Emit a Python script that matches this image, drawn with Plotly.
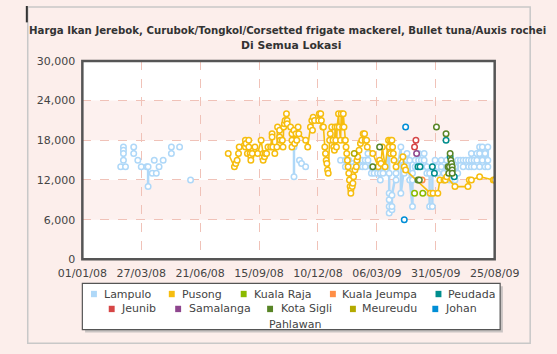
import plotly.graph_objects as go
import pandas as pd

W, H = 557, 354

TITLE_1 = "Harga Ikan Jerebok, Curubok/Tongkol/Corsetted frigate mackerel, Bullet tuna/Auxis rochei"
TITLE_2 = "Di Semua Lokasi"

X_START = "2008-01-01"
X_END = "2009-08-25"
TICK_STEP_DAYS = 86
Y_MAX = 30000
Y_STEP = 6000

SERIES_NAMES = ["Lampulo", "Pusong", "Kuala Raja", "Kuala Jeumpa", "Peudada",
                "Jeunib", "Samalanga", "Kota Sigli", "Meureudu", "Johan Pahlawan"]
SERIES_COLORS = ["#AFD8F8", "#F6BD0F", "#8BBA00", "#FF8E46", "#008E8E",
                 "#D64646", "#8E468E", "#588526", "#B3AA00", "#008ED6"]

# (date, price) ; None marks a break in the line
LAMPULO = [
    ("2008-02-26", 14000), None,
    ("2008-03-01", 17000), ("2008-03-01", 16500), ("2008-03-01", 16000), ("2008-03-01", 15000), None,
    ("2008-03-04", 14000), None,
    ("2008-03-16", 17000), ("2008-03-16", 16000), None,
    ("2008-03-22", 15000), None,
    ("2008-03-27", 14000), None,
    ("2008-04-04", 14000), None,
    ("2008-04-06", 14000), ("2008-04-06", 11000), None,
    ("2008-04-12", 13000), None,
    ("2008-04-15", 15000), None,
    ("2008-04-18", 13000), None,
    ("2008-04-22", 14000), None,
    ("2008-04-28", 15000), None,
    ("2008-05-10", 17000), ("2008-05-10", 16000), None,
    ("2008-05-22", 17000), None,
    ("2008-06-07", 12000), None,
    ("2008-11-05", 17000), ("2008-11-05", 12500), None,
    ("2008-11-13", 15000), ("2008-11-16", 14500), ("2008-11-22", 14000), None,
    ("2009-01-12", 15000), ("2009-01-19", 15000), ("2009-01-19", 14000), ("2009-01-24", 15000),
    ("2009-01-30", 14500), ("2009-01-30", 14000), ("2009-02-04", 14500), ("2009-02-08", 14000),
    ("2009-02-08", 15000), ("2009-02-13", 15000), ("2009-02-13", 14000), ("2009-02-17", 14000),
    ("2009-02-17", 15000), ("2009-02-21", 15000), ("2009-02-21", 16000), ("2009-02-26", 13000),
    ("2009-02-26", 14000), ("2009-03-02", 13000), ("2009-03-07", 13000), ("2009-03-07", 14000),
    ("2009-03-11", 12000), ("2009-03-11", 13000), ("2009-03-15", 14000), ("2009-03-15", 13000),
    ("2009-03-19", 14000), ("2009-03-24", 17000), ("2009-03-24", 13000), ("2009-03-24", 10000),
    ("2009-03-24", 9000), ("2009-03-24", 8000), ("2009-03-24", 7000), ("2009-03-28", 7500),
    ("2009-03-28", 8000), ("2009-03-28", 9700), ("2009-04-03", 13000), ("2009-04-03", 12000),
    ("2009-04-10", 17000), ("2009-04-10", 15000), ("2009-04-10", 10000), ("2009-04-15", 14000),
    ("2009-04-15", 13000), ("2009-04-19", 15000), ("2009-04-19", 16000), ("2009-04-23", 15000),
    ("2009-04-23", 12000), ("2009-04-27", 8000), ("2009-04-27", 12000), ("2009-04-27", 13000),
    ("2009-05-01", 14000), ("2009-05-01", 15000), ("2009-05-06", 15000), ("2009-05-06", 16000),
    ("2009-05-10", 15000), ("2009-05-10", 14000), ("2009-05-14", 15000), ("2009-05-14", 16000),
    ("2009-05-18", 14000), ("2009-05-18", 13000), ("2009-05-22", 13000), ("2009-05-22", 10000),
    ("2009-05-22", 8000), ("2009-05-26", 8000), ("2009-05-26", 14000), ("2009-05-30", 15000),
    ("2009-05-30", 14000), ("2009-06-03", 14000), ("2009-06-03", 13000), ("2009-06-08", 15000),
    ("2009-06-08", 14000), ("2009-06-12", 13000), ("2009-06-12", 12000), ("2009-06-16", 15000),
    ("2009-06-16", 14000), ("2009-06-20", 12500), ("2009-06-20", 12000), ("2009-06-24", 12000),
    ("2009-06-24", 14000), ("2009-06-28", 14000), ("2009-06-28", 12000), ("2009-07-02", 13000),
    ("2009-07-02", 15000), ("2009-07-06", 15000), ("2009-07-10", 15000), ("2009-07-10", 14000),
    ("2009-07-14", 15000), ("2009-07-18", 15000), ("2009-07-18", 14000), ("2009-07-22", 16000),
    ("2009-07-22", 15000), ("2009-07-22", 14000), ("2009-07-26", 15000), ("2009-07-26", 14000),
    ("2009-07-30", 16000), ("2009-07-30", 15000), ("2009-08-03", 17000), ("2009-08-03", 16000),
    ("2009-08-03", 14000), ("2009-08-07", 17000), ("2009-08-07", 15000), ("2009-08-11", 16000),
    ("2009-08-11", 14000), ("2009-08-15", 17000), ("2009-08-15", 15000), ("2009-08-15", 14000),
]

PUSONG = [
    ("2008-08-01", 16000), ("2008-08-10", 14000), ("2008-08-12", 14500), ("2008-08-14", 15000),
    ("2008-08-16", 16000), ("2008-08-17", 17000), ("2008-08-26", 18000), ("2008-08-26", 17000),
    ("2008-08-27", 17500), ("2008-08-29", 16000), ("2008-08-31", 18000), ("2008-08-31", 17000),
    ("2008-09-02", 16000), ("2008-09-03", 15500), ("2008-09-03", 15000), ("2008-09-05", 16000),
    ("2008-09-09", 17000), ("2008-09-13", 16000), ("2008-09-18", 18000), ("2008-09-21", 16000),
    ("2008-09-21", 15000), ("2008-09-23", 15500), ("2008-09-24", 16000), ("2008-09-26", 16000),
    ("2008-09-28", 17000), ("2008-10-02", 17000), ("2008-10-04", 19000), ("2008-10-04", 18500),
    ("2008-10-05", 17000), ("2008-10-08", 16000), ("2008-10-11", 17000), ("2008-10-12", 20000),
    ("2008-10-15", 19500), ("2008-10-15", 18500), ("2008-10-16", 18000), ("2008-10-19", 18000),
    ("2008-10-20", 17000), ("2008-10-21", 20000), ("2008-10-22", 20500), ("2008-10-23", 21000),
    ("2008-10-25", 22000), ("2008-10-26", 21000), ("2008-10-26", 20500), ("2008-10-31", 20000),
    ("2008-11-02", 19000), ("2008-11-02", 18000), ("2008-11-02", 17000), ("2008-11-05", 19500),
    ("2008-11-06", 17500), ("2008-11-08", 19000), ("2008-11-09", 18000), ("2008-11-11", 20000),
    ("2008-11-12", 19000), ("2008-11-22", 18000), ("2008-11-25", 17000), ("2008-11-29", 20000),
    ("2008-12-01", 21000), ("2008-12-02", 19500), ("2008-12-03", 21500), ("2008-12-05", 21000),
    ("2008-12-11", 21000), ("2008-12-12", 22000), ("2008-12-14", 22000), ("2008-12-15", 21000),
    ("2008-12-17", 20000), ("2008-12-18", 20000), ("2008-12-20", 17000), ("2008-12-21", 16000),
    ("2008-12-22", 15000), ("2008-12-23", 14500), ("2008-12-24", 13500), ("2008-12-25", 13000),
    ("2008-12-27", 18000), ("2008-12-28", 19000), ("2008-12-30", 20000), ("2009-01-01", 18000),
    ("2009-01-02", 17000), ("2009-01-03", 16500), ("2009-01-04", 20000), ("2009-01-05", 18000),
    ("2009-01-06", 17000), ("2009-01-07", 20000), ("2009-01-09", 22000), ("2009-01-10", 20000),
    ("2009-01-12", 18000), ("2009-01-13", 22000), ("2009-01-15", 20000), ("2009-01-16", 22000),
    ("2009-01-17", 20000), ("2009-01-18", 18000), ("2009-01-19", 18000), ("2009-01-20", 17000),
    ("2009-01-21", 16000), ("2009-01-22", 15000), ("2009-01-23", 14000), ("2009-01-24", 13000),
    ("2009-01-25", 12000), ("2009-01-26", 11000), ("2009-01-27", 10500), ("2009-01-27", 10000),
    ("2009-01-29", 11000), ("2009-01-30", 11500), ("2009-01-31", 12500), ("2009-02-02", 13500),
    ("2009-02-04", 14000), ("2009-02-05", 15000), ("2009-02-06", 15500), ("2009-02-08", 16500),
    ("2009-02-10", 17500), ("2009-02-12", 18000), ("2009-02-14", 19000), ("2009-02-16", 19000),
    ("2009-02-17", 18000), ("2009-02-19", 18000), ("2009-02-20", 17000), ("2009-02-28", 16000),
    ("2009-03-08", 14000), ("2009-03-10", 15000), ("2009-03-12", 14500), ("2009-03-14", 17000),
    ("2009-03-18", 14000), ("2009-03-23", 18000), ("2009-03-24", 17000), ("2009-03-26", 18000),
    ("2009-03-26", 16000), ("2009-03-28", 18000), ("2009-03-29", 17000), ("2009-03-30", 16000),
    ("2009-03-31", 15000), ("2009-04-03", 14000), ("2009-04-13", 15500), ("2009-04-15", 14000),
    ("2009-04-17", 13500), ("2009-05-23", 10000), ("2009-05-27", 10000), ("2009-06-03", 10000),
    ("2009-06-06", 12000), ("2009-06-12", 12000), ("2009-06-14", 12000), ("2009-06-16", 12500),
    ("2009-06-28", 11000), ("2009-07-17", 11000), ("2009-07-19", 12000), ("2009-07-22", 12000),
    ("2009-08-03", 12500), ("2009-08-23", 12000), ("2009-08-25", 12000),
]

KUALA_RAJA = [("2009-04-30", 10000), None, ("2009-05-12", 10000)]
KUALA_JEUMPA = [("2009-05-11", 12000)]
PEUDADA = [("2009-05-05", 14000), ("2009-05-08", 14000), None, ("2009-05-26", 14000), ("2009-05-29", 13000), None,
           ("2009-06-15", 18000), None, ("2009-06-21", 15500), ("2009-06-27", 12500)]
JEUNIB = [("2009-04-30", 17000), ("2009-05-02", 18000)]
SAMALANGA = [("2009-05-03", 16000)]
KOTA_SIGLI = [("2009-02-28", 14000), None, ("2009-03-10", 17000), None, ("2009-05-05", 12000), ("2009-05-07", 12000), None,
              ("2009-06-01", 20000), None, ("2009-06-15", 19000), None, ("2009-06-18", 14000), ("2009-06-19", 13000),
              ("2009-06-20", 14000), ("2009-06-21", 16000), ("2009-06-22", 15000), ("2009-06-23", 14500),
              ("2009-06-24", 14000), ("2009-06-24", 13500), ("2009-06-24", 13000)]
MEUREUDU = [("2009-02-01", 16000)]
JOHAN_PAHLAWAN = [("2009-04-15", 6000), None, ("2009-04-17", 20000)]

SERIES_DATA = [LAMPULO, PUSONG, KUALA_RAJA, KUALA_JEUMPA, PEUDADA,
               JEUNIB, SAMALANGA, KOTA_SIGLI, MEUREUDU, JOHAN_PAHLAWAN]

FONT = "DejaVu Sans"
TEXT_COLOR = "#444444"
PAPER_BG = "#fceeeb"
BAND_COLOR = "#fdf1ef"
GRID_COLOR = "#f0c2b8"
BORDER_COLOR = "#555555"


def px(x):
    return x / W


def py(y):
    return 1 - y / H


# plot area in pixels
PL, PR, PT, PB = 63, 516, 57, 263

fig = go.Figure()

for name, color, data in zip(SERIES_NAMES, SERIES_COLORS, SERIES_DATA):
    xs = [d[0] if d else None for d in data]
    ys = [d[1] if d else None for d in data]
    fig.add_trace(go.Scatter(
        x=xs, y=ys, name=name, mode="lines+markers",
        connectgaps=False,
        line=dict(color=color, width=2.5 if name == "Lampulo" else 1.6),
        marker=dict(symbol="circle", size=5.5, color="white",
                    line=dict(color=color, width=1.5)),
        showlegend=False, hoverinfo="skip",
    ))

tick_dates = pd.date_range(X_START, periods=8, freq=f"{TICK_STEP_DAYS}D")
tick_text = [d.strftime("%d/%m/%y") for d in tick_dates]

fig.update_xaxes(
    type="date", range=[X_START, X_END],
    domain=[px(PL), px(PR)],
    tickvals=list(tick_dates), ticktext=tick_text,
    showgrid=True, gridcolor=GRID_COLOR, griddash="dash", gridwidth=1,
    zeroline=False, showline=False,
    ticks="outside", ticklen=3, tickcolor="rgba(0,0,0,0)",
    tickfont=dict(family=FONT, size=11, color=TEXT_COLOR),
)
fig.update_yaxes(
    range=[0, Y_MAX], domain=[py(PB), py(PT)],
    tickvals=list(range(0, Y_MAX + 1, Y_STEP)), tickformat=",d",
    showgrid=True, gridcolor=GRID_COLOR, griddash="dash", gridwidth=1,
    zeroline=False, showline=False,
    ticks="outside", ticklen=4, tickcolor="rgba(0,0,0,0)",
    tickfont=dict(family=FONT, size=11, color=TEXT_COLOR),
)

shapes = []
# alternating bands
for lo in range(Y_STEP, Y_MAX, 2 * Y_STEP):
    shapes.append(dict(type="rect", xref="x domain", yref="y", x0=0, x1=1, y0=lo, y1=lo + Y_STEP,
                       fillcolor=BAND_COLOR, line=dict(width=0), layer="below"))
# plot border
shapes.append(dict(type="rect", xref="x domain", yref="y domain", x0=0, x1=1, y0=0, y1=1,
                   line=dict(color=BORDER_COLOR, width=2.5), layer="above"))
# outer frame
shapes.append(dict(type="rect", xref="paper", yref="paper", x0=px(3), x1=px(555), y0=py(350), y1=py(1),
                   line=dict(color="#c8c8c8", width=1.5)))
shapes.append(dict(type="line", xref="paper", yref="paper", x0=px(2), x1=px(2), y0=py(0), y1=py(17),
                   line=dict(color="#333333", width=2)))
# legend box + shadow
LG_L, LG_R, LG_T, LG_B = 63, 522, 288, 336
shapes.append(dict(type="rect", xref="paper", yref="paper", x0=px(LG_L + 3), x1=px(LG_R + 3),
                   y0=py(LG_B + 3), y1=py(LG_T + 3), fillcolor="#c9c4c3", line=dict(width=0)))
shapes.append(dict(type="rect", xref="paper", yref="paper", x0=px(LG_L), x1=px(LG_R),
                   y0=py(LG_B), y1=py(LG_T), fillcolor="white", line=dict(color="#555555", width=1.2)))

LEGEND_POS = [
    (72.5, 84.5, 299), (158, 170, 299), (237, 249, 299), (335, 346, 299), (451, 463, 299),
    (92, 103.5, 314.5), (165, 177.5, 314.5), (266, 278.5, 314.5), (357, 368, 314.5), (447.5, 459.5, 314.5),
]
annotations = []
for (sx, tx, ry), name, color in zip(LEGEND_POS, SERIES_NAMES, SERIES_COLORS):
    shapes.append(dict(type="rect", xref="paper", yref="paper", x0=px(sx), x1=px(sx + 6.5),
                       y0=py(ry + 3.3), y1=py(ry - 3.3), fillcolor=color, line=dict(width=0)))
    label = name.split(" ")[0] if name == "Johan Pahlawan" else name
    annotations.append(dict(text=label, xref="paper", yref="paper", x=px(tx), y=py(ry),
                            xanchor="left", yanchor="middle", showarrow=False,
                            font=dict(family=FONT, size=11, color=TEXT_COLOR)))
annotations.append(dict(text="Pahlawan", xref="paper", yref="paper", x=px(266), y=py(331),
                        xanchor="left", yanchor="middle", showarrow=False,
                        font=dict(family=FONT, size=11, color=TEXT_COLOR)))

annotations.append(dict(text=f"<b>{TITLE_1}</b>", xref="paper", yref="paper", x=px(288), y=py(25),
                        xanchor="center", yanchor="middle", showarrow=False,
                        font=dict(family=FONT, size=10.2, color="#333333")))
annotations.append(dict(text=f"<b>{TITLE_2}</b>", xref="paper", yref="paper", x=px(292), y=py(41),
                        xanchor="center", yanchor="middle", showarrow=False,
                        font=dict(family=FONT, size=10.8, color="#333333")))

fig.update_layout(
    width=W, height=H, margin=dict(l=0, r=0, t=0, b=0),
    paper_bgcolor=PAPER_BG, plot_bgcolor="white",
    shapes=shapes, annotations=annotations, showlegend=False,
)

fig.write_html("out.html", config={"displayModeBar": False})
